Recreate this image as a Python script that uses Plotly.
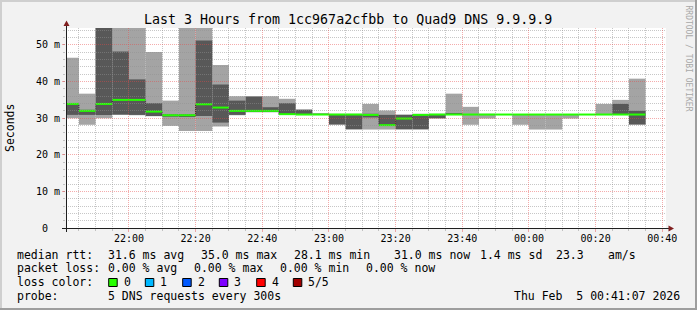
import pandas as pd
import plotly.graph_objects as go

# ---------------- data ----------------
bin_start = [
    "2026-02-04 21:40:00", "2026-02-04 21:45:00", "2026-02-04 21:50:00", "2026-02-04 21:55:00",
    "2026-02-04 22:00:00", "2026-02-04 22:05:00", "2026-02-04 22:10:00", "2026-02-04 22:15:00",
    "2026-02-04 22:20:00", "2026-02-04 22:25:00", "2026-02-04 22:30:00", "2026-02-04 22:35:00",
    "2026-02-04 22:40:00", "2026-02-04 22:45:00", "2026-02-04 22:50:00", "2026-02-04 22:55:00",
    "2026-02-04 23:00:00", "2026-02-04 23:05:00", "2026-02-04 23:10:00", "2026-02-04 23:15:00",
    "2026-02-04 23:20:00", "2026-02-04 23:25:00", "2026-02-04 23:30:00", "2026-02-04 23:35:00",
    "2026-02-04 23:40:00", "2026-02-04 23:45:00", "2026-02-04 23:50:00", "2026-02-04 23:55:00",
    "2026-02-05 00:00:00", "2026-02-05 00:05:00", "2026-02-05 00:10:00", "2026-02-05 00:15:00",
    "2026-02-05 00:20:00", "2026-02-05 00:25:00", "2026-02-05 00:30:00",
]
# five sorted pings per 5-minute step (ms)
ping1 = [30.0, 28.2, 30.0, 30.9, 30.8, 30.5, 27.9, 26.5, 26.5, 27.7, 30.8, 31.6, 31.6, 30.9, 30.9, 30.9, 28.2, 26.9,
         26.9, 26.9, 26.9, 26.9, 29.9, 30.9, 28.2, 29.9, 30.9, 28.2, 26.9, 26.9, 29.9, 30.9, 30.9, 30.9, 28.2]
ping2 = [30.9, 30.9, 30.9, 31.0, 30.9, 30.6, 30.4, 30.5, 30.6, 28.8, 30.9, 31.7, 31.7, 30.9, 30.9, 31.0, 28.3, 27.0,
         30.2, 28.0, 27.0, 27.0, 30.0, 30.9, 30.9, 30.9, 30.9, 30.9, 30.9, 30.9, 30.9, 30.9, 30.9, 30.9, 28.3]
median_rtt = [33.9, 32.0, 33.9, 35.0, 35.0, 31.8, 30.8, 30.8, 33.8, 32.9, 32.0, 32.0, 32.0, 31.1, 31.0, 31.0, 31.0, 31.0,
              30.9, 28.1, 29.9, 30.9, 31.0, 31.0, 31.0, 31.0, 31.0, 31.0, 31.0, 31.0, 31.0, 31.0, 31.0, 31.0, 31.0]
ping4 = [34.0, 32.3, 57.0, 48.2, 40.6, 34.1, 31.0, 31.0, 51.2, 39.2, 34.8, 35.9, 33.0, 34.1, 32.3, 31.1, 31.1, 31.1,
         31.2, 30.9, 30.9, 31.1, 31.1, 31.2, 31.1, 31.1, 31.1, 31.1, 31.1, 31.1, 31.1, 31.1, 31.1, 33.9, 32.0]
ping5 = [46.5, 36.7, 60.0, 58.0, 59.0, 48.1, 34.8, 60.0, 62.0, 44.5, 36.0, 36.0, 36.0, 35.3, 32.4, 31.2, 31.2, 31.2,
         33.9, 32.1, 31.0, 31.2, 31.2, 36.7, 33.1, 31.2, 31.1, 31.1, 31.1, 31.1, 31.1, 31.1, 33.9, 35.0, 40.8]

x_range = ["2026-02-04 21:41:07", "2026-02-05 00:41:07"]
major_tick0 = "2026-02-04 22:00:00"
y_max = 54.64
y_tick_vals = [0, 10, 20, 30, 40, 50]
y_tick_text = ["0\u00a0\u00a0\u200b", "10 m", "20 m", "30 m", "40 m", "50 m"]

title_text = "Last 3 Hours from 1cc967a2cfbb to Quad9 DNS 9.9.9.9"
stats_rtt = ["median rtt:", "31.6 ms avg", "35.0 ms max", "28.1 ms min", "31.0 ms now", "1.4 ms sd", "23.3", "am/s"]
stats_loss = ["packet loss:", "0.00 % avg", "0.00 % max", "0.00 % min", "0.00 % now"]
loss_labels = ["0", "1", "2", "3", "4", "5/5"]
loss_colors = ["#26ff00", "#00b8ff", "#0059ff", "#7e00ff", "#ff0000", "#a10000"]
probe_text = ["probe:", "5 DNS requests every 300s"]
stamp_text = "Thu Feb\u00a0\u00a05 00:41:07 2026"

# ---------------- style ----------------
MONO = "DejaVu Sans Mono"
BACK = "#f2f2f2"
SHADEA = "#cfcfcf"
SHADEB = "#9e9e9e"
GRID = "rgba(143,143,143,0.5)"
MGRID = "rgba(230,70,70,0.45)"
ARROW = "#801f1f"
AXIS = "#1f1f1f"
SMOKE_OUT = "#a4a4a4"
SMOKE_IN = "#585858"
DASH = "1px,1px"

W, H = 697, 310
L, T, PW, PH = 66, 28, 600, 200
B = T + PH


def fx(px):
    return (px - L) / PW


def fy(py):
    return (B - py) / PH


starts = pd.to_datetime(pd.Series(bin_start))
step = pd.Timedelta(minutes=5)
centers = starts + step / 2
ends = starts + step

fig = go.Figure()

fig.add_trace(go.Bar(
    x=centers, base=ping1, y=[b - a for a, b in zip(ping1, ping5)], width=300000,
    marker=dict(color=SMOKE_OUT, line=dict(width=0)), hoverinfo="skip", showlegend=False))
fig.add_trace(go.Bar(
    x=centers, base=ping2, y=[b - a for a, b in zip(ping2, ping4)], width=300000,
    marker=dict(color=SMOKE_IN, line=dict(width=0)), hoverinfo="skip", showlegend=False))

# dotted step connectors of the median
fig.add_trace(go.Scatter(
    x=list(starts) + [ends.iloc[-1]], y=median_rtt + [median_rtt[-1]],
    mode="lines", line=dict(shape="hv", color=AXIS, width=1, dash=DASH),
    hoverinfo="skip", showlegend=False))

# median segments
mx, my = [], []
for s, e, m in zip(starts, ends, median_rtt):
    mx += [s, e, None]
    my += [m, m, None]
fig.add_trace(go.Scatter(x=mx, y=my, mode="lines", line=dict(color=loss_colors[0], width=2),
                         hoverinfo="skip", showlegend=False))

# invisible trace carrying the grid overlay subplot
fig.add_trace(go.Scatter(x=[x_range[0]], y=[0], xaxis="x2", yaxis="y2", mode="markers",
                         marker=dict(opacity=0), hoverinfo="skip", showlegend=False))

tickfont = dict(family=MONO, size=10, color="black")

fig.update_layout(
    width=W, height=H, autosize=False,
    margin=dict(l=L, r=W - L - PW, t=T, b=H - B, pad=0),
    paper_bgcolor=BACK, plot_bgcolor="rgba(0,0,0,0)",
    barmode="overlay", showlegend=False,
    xaxis=dict(type="date", range=x_range, domain=[0, 1], anchor="y",
               showgrid=False, zeroline=False, showline=False,
               tickmode="linear", tick0=major_tick0, dtick=1200000, tickformat="%H:%M",
               ticks="outside", ticklen=3, tickcolor=MGRID, tickfont=tickfont,
               ticklabelstandoff=-2,
               minor=dict(tickmode="linear", tick0=major_tick0, dtick=300000, ticks="outside",
                          ticklen=2, tickcolor=GRID, showgrid=False)),
    yaxis=dict(range=[0, y_max], domain=[0, 1], anchor="x",
               showgrid=False, zeroline=False, showline=False,
               tickmode="array", tickvals=y_tick_vals, ticktext=y_tick_text,
               ticks="outside", ticklen=3, tickcolor=MGRID, tickfont=tickfont,
               minor=dict(tickmode="linear", tick0=0, dtick=2, ticks="outside", ticklen=2,
                          tickcolor=GRID, showgrid=False)),
    xaxis2=dict(type="date", range=x_range, domain=[0, 1], anchor="y2",
                showticklabels=False, ticks="", zeroline=False, showline=False,
                tickmode="linear", tick0=major_tick0, dtick=1200000,
                showgrid=True, gridcolor=MGRID, gridwidth=1, griddash=DASH,
                minor=dict(tickmode="linear", tick0=major_tick0, dtick=300000, showgrid=True,
                           gridcolor=GRID, gridwidth=1, griddash=DASH)),
    yaxis2=dict(range=[0, y_max], domain=[0, 1], anchor="x2",
                showticklabels=False, ticks="", zeroline=False, showline=False,
                tickmode="linear", tick0=0, dtick=10,
                showgrid=True, gridcolor=MGRID, gridwidth=1, griddash=DASH,
                minor=dict(tickmode="linear", tick0=0, dtick=2, showgrid=True,
                           gridcolor=GRID, gridwidth=1, griddash=DASH)),
)

shapes = []
# canvas
shapes.append(dict(type="rect", xref="paper", yref="paper", x0=0, x1=1, y0=0, y1=1,
                   fillcolor="white", line=dict(width=0), layer="below"))
# 3d frame
for (x0, y0, x1, y1, c) in [(0, 0, W, 2, SHADEA), (0, 0, 2, H, SHADEA),
                            (W - 2, 0, W, H, SHADEB), (0, H - 2, W, H, SHADEB)]:
    shapes.append(dict(type="rect", xref="paper", yref="paper", x0=fx(x0), x1=fx(x1),
                       y0=fy(y1), y1=fy(y0), fillcolor=c, line=dict(width=0), layer="above"))
# axes lines
shapes.append(dict(type="line", xref="paper", yref="paper", x0=fx(62), x1=fx(670),
                   y0=fy(228.5), y1=fy(228.5), line=dict(color=AXIS, width=1), layer="above"))
shapes.append(dict(type="line", xref="paper", yref="paper", x0=fx(66.5), x1=fx(66.5),
                   y0=fy(232), y1=fy(24), line=dict(color=AXIS, width=1), layer="above"))
# arrows
shapes.append(dict(type="path", xref="paper", yref="paper",
                   path=f"M {fx(674)},{fy(228.5)} L {fx(668.5)},{fy(225.5)} L {fx(668.5)},{fy(231.5)} Z",
                   fillcolor=ARROW, line=dict(width=0), layer="above"))
shapes.append(dict(type="path", xref="paper", yref="paper",
                   path=f"M {fx(66.5)},{fy(20.5)} L {fx(63.5)},{fy(26)} L {fx(69.5)},{fy(26)} Z",
                   fillcolor=ARROW, line=dict(width=0), layer="above"))

ann = []


def text(t, px, py, size=11.5, xanchor="left", angle=0, color="black"):
    ann.append(dict(text=t, x=fx(px), y=fy(py), xref="paper", yref="paper", showarrow=False,
                    xanchor=xanchor, yanchor="middle", textangle=angle, borderpad=0,
                    font=dict(family=MONO, size=size, color=color)))


text(title_text, 347.5, 19.5, size=13.3, xanchor="center")
text("Seconds", 10, 128, size=11.5, xanchor="center", angle=-90)
text("RRDTOOL / TOBI OETIKER", 688, 58.5, size=8, xanchor="center", angle=90, color="#a8a8a8")

row_y = [255, 268.3, 282.3, 295.7]
for t, px in zip(stats_rtt, [16, 107.3, 200, 292.7, 393.3, 479.3, 555, 606.7]):
    text(t, px, row_y[0])
for t, px in zip(stats_loss, [16, 107.3, 193.3, 279.3, 365.3]):
    text(t, px, row_y[1])
text("loss color:", 16, row_y[2])
box_x = [108.7, 145.3, 182.7, 219.3, 256.7, 293.3]
for lbl, col, bx in zip(loss_labels, loss_colors, box_x):
    shapes.append(dict(type="rect", xref="paper", yref="paper", x0=fx(bx), x1=fx(bx + 8.5),
                       y0=fy(286.5), y1=fy(278.5), fillcolor=col,
                       line=dict(color="black", width=1), layer="above"))
    text(lbl, bx + 14, row_y[2])
text(probe_text[0], 16, row_y[3])
text(probe_text[1], 107.3, row_y[3])
text(stamp_text, 513.3, row_y[3])

fig.update_layout(shapes=shapes, annotations=ann)
fig.write_html("out.html")
